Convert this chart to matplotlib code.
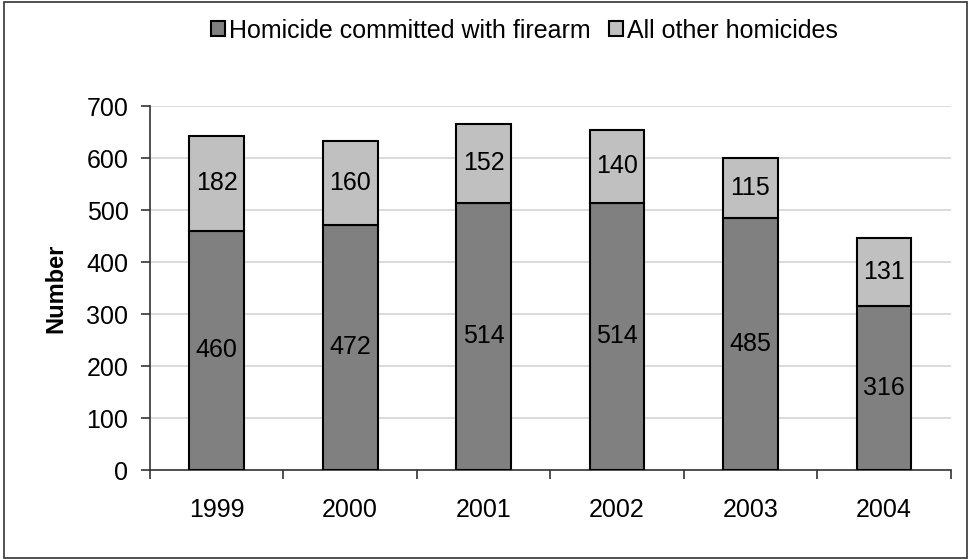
import numpy as np
import matplotlib.pyplot as plt
from matplotlib.patches import Rectangle

plt.rcParams['font.family'] = ['Liberation Sans', 'DejaVu Sans']

years = ['1999', '2000', '2001', '2002', '2003', '2004']
firearm = [460, 472, 514, 514, 485, 316]
other = [182, 160, 152, 140, 115, 131]

fs = 18

fig = plt.figure(figsize=(9.71, 5.6), dpi=100)
ax = fig.add_axes([0.1545, 0.1607, 0.8245, 0.65])

x = np.arange(len(years))
w = 0.41
b1 = ax.bar(x, firearm, w, color='#808080', edgecolor='black', linewidth=1.5,
            label='Homicide committed with firearm', zorder=3)
b2 = ax.bar(x, other, w, bottom=firearm, color='#c0c0c0', edgecolor='black',
            linewidth=1.5, label='All other homicides', zorder=3)

for i in range(len(years)):
    ax.text(x[i], firearm[i] / 2, str(firearm[i]), ha='center', va='center', fontsize=fs, zorder=4)
    ax.text(x[i], firearm[i] + other[i] / 2, str(other[i]), ha='center', va='center', fontsize=fs, zorder=4)

ax.set_xlim(-0.5, len(years) - 0.5)
ax.set_ylim(0, 700)
ax.set_yticks(range(0, 701, 100))
ax.yaxis.grid(True, color='#d4d4d4', linewidth=1.2, zorder=0)

ax.set_xticks(np.arange(-0.5, len(years), 1.0))
ax.set_xticklabels([])
ax.set_xticks(x, minor=True)
ax.set_xticklabels(years, minor=True)
ax.tick_params(axis='x', which='major', length=6.5, width=1.2, direction='out', color='#333333')
ax.tick_params(axis='x', which='minor', length=0, pad=20, labelsize=fs)
ax.tick_params(axis='y', length=6.5, width=1.2, pad=9, labelsize=fs, color='#333333')

for s in ['top', 'right']:
    ax.spines[s].set_visible(False)
for s in ['left', 'bottom']:
    ax.spines[s].set_color('#333333')
    ax.spines[s].set_linewidth(1.2)

ax.set_ylabel('Number', fontsize=17, fontweight='bold', labelpad=14)

fig.legend(handles=[b1, b2], loc='center', bbox_to_anchor=(0.54, 0.945), ncol=2,
           frameon=False, fontsize=fs, handlelength=0.55, handleheight=0.55,
           handletextpad=0.15, columnspacing=0.75)

fig.add_artist(Rectangle((0.004, 0.004), 0.992, 0.992, transform=fig.transFigure,
                         fill=False, edgecolor='#333333', linewidth=1.2))

fig.savefig('out.png', dpi=100)
